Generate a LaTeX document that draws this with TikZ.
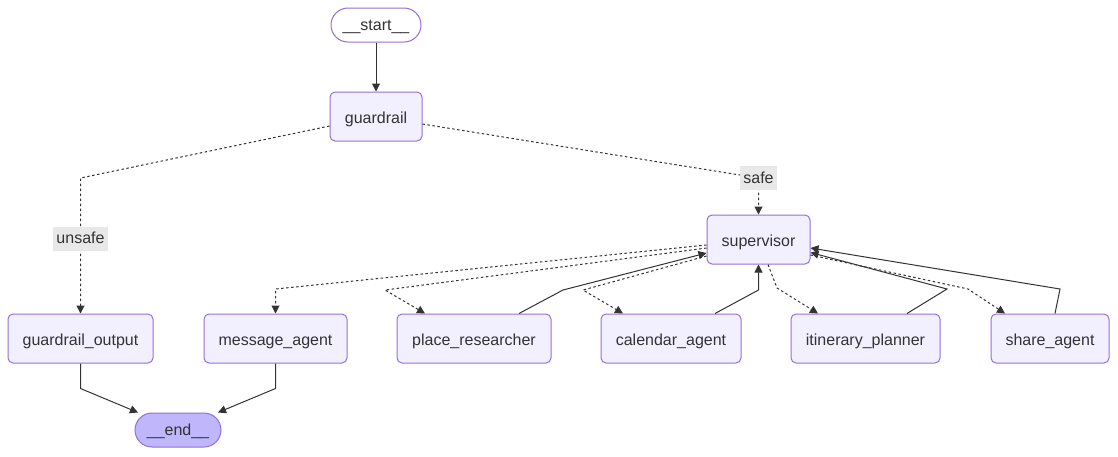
\documentclass[tikz,border=0pt]{standalone}
\usepackage{fontspec}
\setmainfont{Liberation Sans}
\usetikzlibrary{arrows.meta,calc}
\definecolor{nodefill}{HTML}{F2F0FF}
\definecolor{nodedraw}{HTML}{9370DB}
\definecolor{endfill}{HTML}{BFB6FC}
\definecolor{ink}{HTML}{333333}
\definecolor{lblbg}{HTML}{E8E8E8}
\begin{document}
\begin{tikzpicture}[x=1pt,y=-1pt,
  txt/.style={text=ink, font=\fontsize{16}{19}\selectfont},
  box/.style={txt, draw=nodedraw, fill=nodefill, rounded corners=5pt, line width=1pt, minimum height=49pt, inner sep=0pt, text height=13pt, text depth=0pt},
  term/.style={txt, draw=nodedraw, rounded corners=17pt, line width=1pt, minimum height=34pt, inner sep=0pt, text height=12pt, text depth=1pt},
  lbl/.style={txt, fill=lblbg, inner xsep=3pt, inner ysep=5pt, text height=12pt, text depth=2pt},
  solidedge/.style={draw=ink, line width=1pt, -{Triangle[length=8pt,width=8pt]}},
  dotedge/.style={solidedge, dash pattern=on 2.5pt off 2.5pt}
]
\useasboundingbox[fill=white] (0,0) rectangle (1118,456);

\node[term, fill=white, minimum width=90pt] (start) at (376,25) {\_\_start\_\_};
\node[box, minimum width=92pt] (gr) at (376,116.5) {guardrail};
\node[box, minimum width=103pt] (sup) at (758.5,239.5) {supervisor};
\node[box, minimum width=145pt] (gout) at (80.5,338.5) {guardrail\_output};
\node[box, minimum width=143pt] (msg) at (275.5,338.5) {message\_agent};
\node[box, minimum width=154pt] (place) at (474,338.5) {place\_researcher};
\node[box, minimum width=140pt] (cal) at (671,338.5) {calendar\_agent};
\node[box, minimum width=149pt] (itin) at (865.5,338.5) {itinerary\_planner};
\node[box, minimum width=118pt] (share) at (1050,338.5) {share\_agent};
\node[term, fill=endfill, minimum width=86pt] (end) at (178,430) {\_\_end\_\_};

% start -> guardrail
\draw[solidedge] (start) -- (gr);

% guardrail conditional edges
\draw[dotedge] ($(gr.west)+(0,9.5)$) -- (80.5,178)
  -- node[lbl, pos=0.45] (lunsafe) {unsafe} (gout.north);
\draw[dotedge] ($(gr.east)+(0,7.5)$) -- (758.5,178) node[lbl] (lsafe) {safe} -- (sup.north);

% supervisor -> workers (dotted)
\draw[dotedge] ($(sup.west)+(0,5.5)$) -- (275.5,289) -- (msg.north);
\draw[dotedge] ($(sup.west)+(0,8.5)$) -- (385,290) -- ($(place.north)+(-49,0)$);
\draw[dotedge] ($(sup.west)+(0,16.5)$) -- (583,290) -- ($(cal.north)+(-48,0)$);
\draw[dotedge] ($(sup.south)+(9.5,0)$) -- (777,288) -- ($(itin.north)+(-47.5,0)$);
\draw[dotedge] ($(sup.east)+(0,15.5)$) -- (968,289) -- ($(share.north)+(-45,0)$);

% workers -> supervisor (solid)
\draw[solidedge] ($(place.north)+(45,0)$) -- (563,290) -- ($(sup.west)+(0,13.5)$);
\draw[solidedge] ($(cal.north)+(44,0)$) -- (758.5,290) -- (sup.south);
\draw[solidedge] ($(itin.north)+(41.5,0)$) -- (947,289) -- ($(sup.east)+(0,13)$);
\draw[solidedge] ($(share.north)+(5,0)$) -- (1060,289) -- ($(sup.east)+(0,8.5)$);

% finishing edges
\draw[solidedge] (gout.south) -- (80.5,388.5) -- ($(end.north)+(-40,0)$);
\draw[solidedge] (msg.south) -- (275.5,388.5) -- ($(end.north)+(40,0)$);
\end{tikzpicture}
\end{document}
